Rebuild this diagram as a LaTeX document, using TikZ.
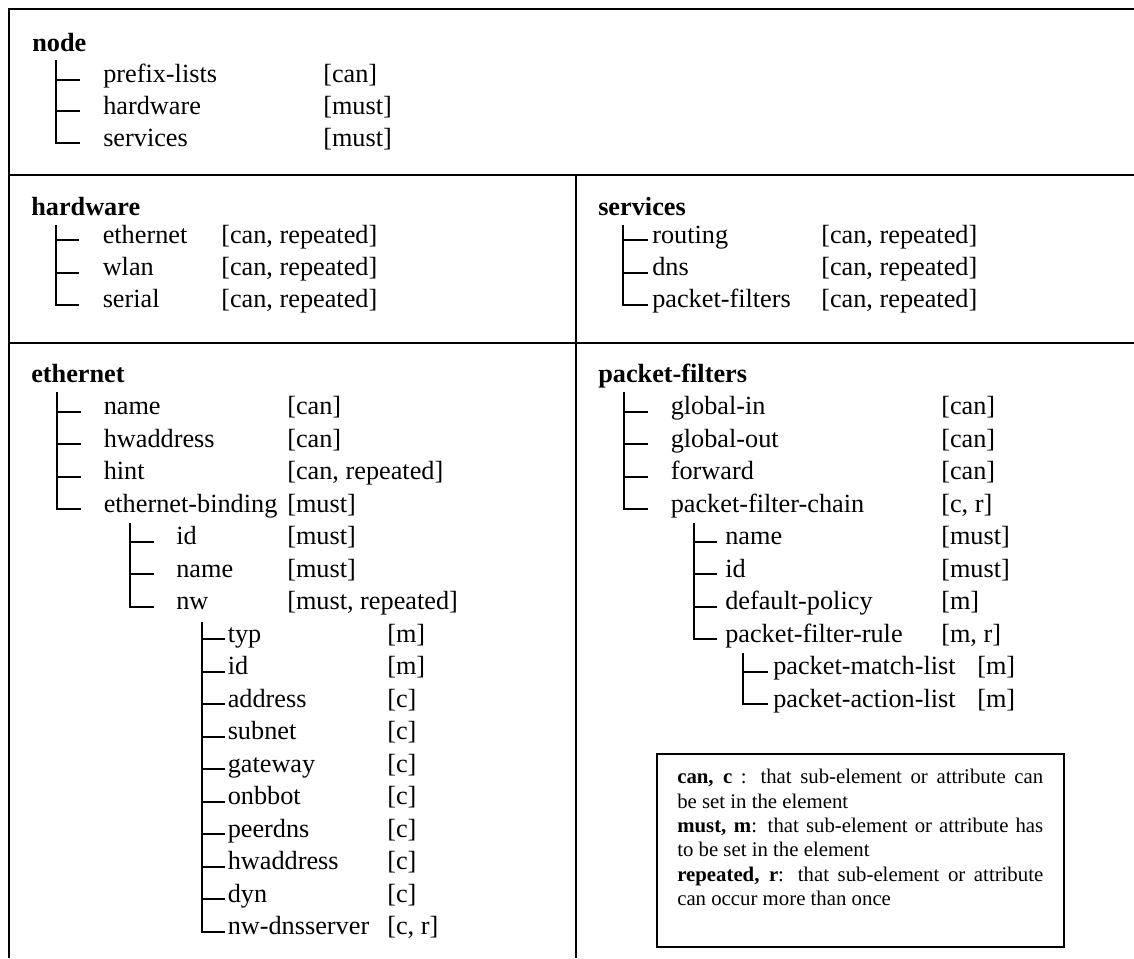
\documentclass[tikz,border=0pt]{standalone}
\usepackage{fontspec}
\setmainfont{Liberation Serif}

\newcommand\treefont{\fontsize{19.7pt}{24pt}\selectfont}
\newcommand\legendfont{\fontsize{15.6pt}{18.3pt}\selectfont}

\tikzset{
  frameline/.style={line width=1.7pt},
  trunk/.style={line width=1.5pt},
  twig/.style={trunk, shorten >=#1},
  entry/.style={anchor=west, inner sep=0pt, text height=0.7em, text depth=0.24em, font=\treefont},
  heading/.style={entry, font=\treefont\bfseries},
}

\begin{document}
\begin{tikzpicture}[x=0.75pt, y=-0.75pt]
    \useasboundingbox (0,0) rectangle (1134,958);

    % Рамка таблицы
    \draw[frameline] (1134,9) -- (9,9) -- (9,958);
    \draw[frameline] (9,175) -- (1134,175);
    \draw[frameline] (9,343) -- (1134,343);
    \draw[frameline] (576,175) -- (576,958);

    % Блок node
    \node[heading] (nd) at (32,48) {node};
    \coordinate (ndT) at (56,60);
    \foreach \lbl/\flag [count=\i] in {prefix-lists/{[can]}, hardware/{[must]}, services/{[must]}} {
        \node[entry] (nd\i) at (103,{48+31.7*\i}) {\lbl};
        \node[entry] (ndf\i) at (323,{48+31.7*\i}) {\flag};
        \draw[twig=17pt] (ndT) |- (nd\i.west);
    }

    % Блок hardware
    \node[heading] (hw) at (31,212) {hardware};
    \coordinate (hwT) at (55.5,225);
    \foreach \lbl/\flag [count=\i] in {ethernet/{[can, repeated]}, wlan/{[can, repeated]}, serial/{[can, repeated]}} {
        \node[entry] (hw\i) at (102.5,{208+32.3*\i}) {\lbl};
        \node[entry] (hwf\i) at (221,{208+32.3*\i}) {\flag};
        \draw[twig=18pt] (hwT) |- (hw\i.west);
    }

    % Блок services
    \node[heading] (srv) at (598,212) {services};
    \coordinate (srvT) at (623,225);
    \foreach \lbl/\flag [count=\i] in {routing/{[can, repeated]}, dns/{[can, repeated]}, packet-filters/{[can, repeated]}} {
        \node[entry] (srv\i) at (652,{208+32.3*\i}) {\lbl};
        \node[entry] (srvf\i) at (821,{208+32.3*\i}) {\flag};
        \draw[twig=3pt] (srvT) |- (srv\i.west);
    }

    % Блок ethernet
    \node[heading] (eth) at (31,379) {ethernet};
    \coordinate (ethT) at (57,392);
    \foreach \lbl/\flag [count=\i] in {name/{[can]}, hwaddress/{[can]}, hint/{[can, repeated]}, ethernet-binding/{[must]}} {
        \node[entry] (eth\i) at (103.5,{379+32.5*\i}) {\lbl};
        \node[entry] (ethf\i) at (287,{379+32.5*\i}) {\flag};
        \draw[twig=17pt] (ethT) |- (eth\i.west);
    }
    \coordinate (bindT) at (130,523);
    \foreach \lbl/\flag [count=\i from 5] in {id/{[must]}, name/{[must]}, nw/{[must, repeated]}} {
        \node[entry] (eth\i) at (176,{379+32.5*\i}) {\lbl};
        \node[entry] (ethf\i) at (287,{379+32.5*\i}) {\flag};
        \draw[twig=16.5pt] (bindT) |- (eth\i.west);
    }
    \coordinate (nwT) at (202,622);
    \foreach \lbl/\flag [count=\i from 8] in {typ/{[m]}, id/{[m]}, address/{[c]}, subnet/{[c]}, gateway/{[c]}, onbbot/{[c]}, peerdns/{[c]}, hwaddress/{[c]}, dyn/{[c]}, nw-dnsserver/{[c, r]}} {
        \node[entry] (eth\i) at (227.5,{379+32.5*\i}) {\lbl};
        \node[entry] (ethf\i) at (387,{379+32.5*\i}) {\flag};
        \draw[twig=2pt] (nwT) |- (eth\i.west);
    }

    % Блок packet-filters
    \node[heading] (pf) at (598,379) {packet-filters};
    \coordinate (pfT) at (624,392);
    \foreach \lbl/\flag [count=\i] in {global-in/{[can]}, global-out/{[can]}, forward/{[can]}, packet-filter-chain/{[c, r]}} {
        \node[entry] (pf\i) at (670.5,{379+32.5*\i}) {\lbl};
        \node[entry] (pff\i) at (941,{379+32.5*\i}) {\flag};
        \draw[twig=17pt] (pfT) |- (pf\i.west);
    }
    \coordinate (chainT) at (693.5,523);
    \foreach \lbl/\flag [count=\i from 5] in {name/{[must]}, id/{[must]}, default-policy/{[m]}, packet-filter-rule/{[m, r]}} {
        \node[entry] (pf\i) at (725,{379+32.5*\i}) {\lbl};
        \node[entry] (pff\i) at (941,{379+32.5*\i}) {\flag};
        \draw[twig=6pt] (chainT) |- (pf\i.west);
    }
    \coordinate (ruleT) at (743,653);
    \foreach \lbl/\flag [count=\i from 9] in {packet-match-list/{[m]}, packet-action-list/{[m]}} {
        \node[entry] (pf\i) at (773,{379+32.5*\i}) {\lbl};
        \node[entry] (pff\i) at (977,{379+32.5*\i}) {\flag};
        \draw[twig=3.75pt] (ruleT) |- (pf\i.west);
    }

    % Легенда
    \draw[line width=1.3pt] (657,754) rectangle (1064,947);
    \node[anchor=north west, inner sep=0pt, text width=274.5pt, align=justify, font=\legendfont] (legend) at (677,769)
        {\parindent=0pt\hyphenpenalty=10000\exhyphenpenalty=10000\emergencystretch=0pt
         \textbf{can, c} : that sub-element or attribute can\linebreak be set in the element\par
         \textbf{must, m}: that sub-element or attribute has\linebreak to be set in the element\par
         \textbf{repeated, r}: that sub-element or attribute\linebreak can occur more than once};
\end{tikzpicture}
\end{document}
